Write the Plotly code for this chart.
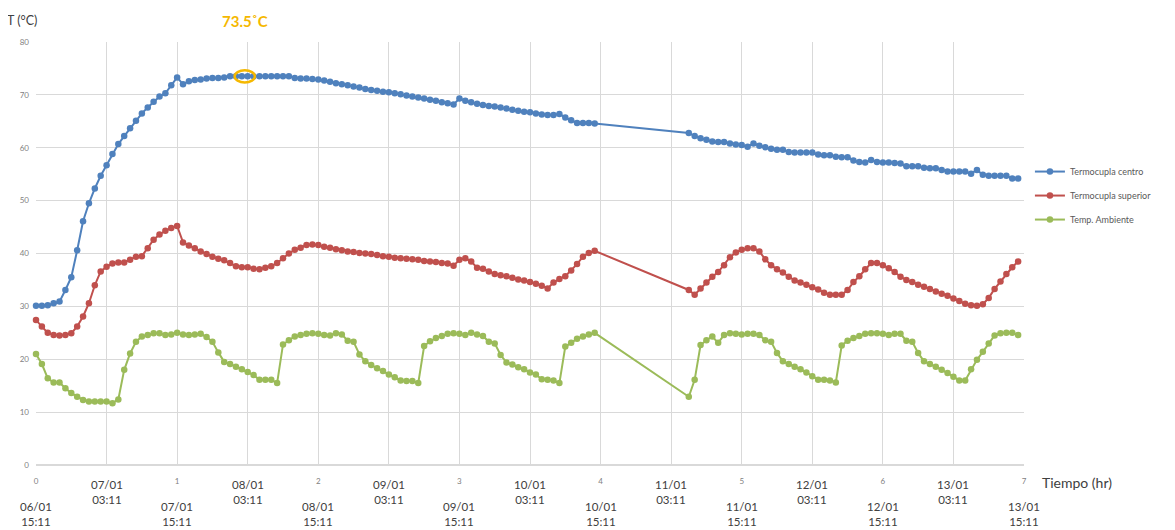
import plotly.graph_objects as go

# ---------------- data (hourly readings, x axis in days) ----------------
hours = list(range(0, 96)) + list(range(111, 168))

centro = [30.1,30.1,30.2,30.6,30.9,33.1,35.5,40.6,46.1,49.5,
          52.3,54.7,56.7,58.8,60.7,62.2,63.7,65.1,66.5,67.6,
          68.7,69.7,70.3,71.8,73.3,72.0,72.6,72.8,72.9,73.1,
          73.2,73.2,73.3,73.5,73.5,73.5,73.5,73.5,73.5,73.5,
          73.5,73.5,73.5,73.5,73.2,73.1,73.1,73.0,72.9,72.7,
          72.5,72.2,72.0,71.8,71.6,71.4,71.1,70.9,70.8,70.6,
          70.5,70.3,70.1,69.9,69.7,69.5,69.3,69.1,68.9,68.6,
          68.4,68.2,69.3,68.9,68.6,68.3,68.1,67.9,67.8,67.6,
          67.4,67.2,67.0,66.8,66.7,66.5,66.3,66.2,66.2,66.4,
          65.7,65.2,64.7,64.7,64.7,64.6,
          62.8,62.2,61.8,61.5,61.2,61.1,61.1,60.8,60.6,60.5,
          60.2,60.8,60.4,60.1,59.8,59.6,59.6,59.2,59.1,59.1,
          59.1,59.1,58.7,58.6,58.6,58.3,58.2,58.2,57.6,57.3,
          57.2,57.7,57.3,57.2,57.2,57.1,57.0,56.5,56.5,56.5,
          56.2,56.1,56.1,55.8,55.5,55.5,55.5,55.5,55.1,55.8,
          54.9,54.7,54.7,54.7,54.7,54.2,54.2]

superior = [27.4,26.2,25.0,24.6,24.5,24.6,24.9,26.2,28.1,30.6,
            34.0,36.6,37.5,38.1,38.3,38.3,38.8,39.4,39.5,41.0,
            42.6,43.6,44.3,44.8,45.2,42.1,41.5,41.0,40.4,39.9,
            39.4,39.0,38.7,38.2,37.6,37.4,37.4,37.1,37.0,37.3,
            37.6,38.2,39.1,40.0,40.7,41.1,41.6,41.7,41.6,41.3,
            41.1,40.8,40.6,40.4,40.3,40.1,40.0,39.9,39.7,39.5,
            39.4,39.2,39.1,39.0,38.9,38.8,38.6,38.5,38.4,38.2,
            38.1,37.7,38.8,39.1,38.5,37.3,37.1,36.6,36.1,35.9,
            35.7,35.4,35.1,34.9,34.6,34.3,33.9,33.4,34.5,35.2,
            35.7,36.8,38.0,39.4,40.1,40.5,
            33.1,32.2,33.4,34.5,35.6,36.5,37.8,39.3,40.2,40.7,
            41.0,41.0,40.4,38.9,37.8,37.0,36.4,35.6,34.9,34.5,
            34.1,33.6,33.2,32.6,32.2,32.2,32.2,33.1,34.6,35.7,
            37.0,38.2,38.2,37.8,37.2,36.5,35.6,35.0,34.6,34.1,
            33.7,33.3,32.8,32.4,32.0,31.5,31.0,30.5,30.2,30.1,
            30.4,31.6,33.3,34.7,36.1,37.4,38.5]

ambiente = [21.0,19.1,16.4,15.6,15.6,14.5,13.6,12.9,12.3,12.0,
            12.0,12.0,12.0,11.7,12.4,18.0,21.1,23.3,24.3,24.6,
            24.9,24.9,24.6,24.7,25.0,24.7,24.6,24.7,24.8,24.2,
            23.3,21.3,19.5,19.1,18.6,18.1,17.6,17.0,16.1,16.1,
            16.1,15.5,22.8,23.6,24.3,24.6,24.8,24.9,24.8,24.6,
            24.5,24.9,24.7,23.5,23.3,20.9,19.6,18.9,18.3,17.8,
            17.1,16.6,16.0,15.9,15.9,15.5,22.5,23.4,24.0,24.4,
            24.8,24.9,24.8,24.6,25.0,24.7,24.4,23.3,23.0,20.8,
            19.4,19.0,18.5,18.1,17.5,17.1,16.2,16.1,16.0,15.5,
            22.4,23.1,23.9,24.3,24.7,25.0,
            12.9,16.1,22.7,23.6,24.3,23.1,24.6,24.9,24.8,24.7,
            24.8,24.8,24.6,23.6,23.3,21.2,19.6,19.1,18.6,18.1,
            17.5,16.8,16.1,16.1,16.0,15.6,22.6,23.5,24.0,24.4,
            24.8,24.9,24.9,24.8,24.6,24.8,24.8,23.5,23.3,21.2,
            19.6,19.1,18.6,18.0,17.4,16.7,16.0,16.0,18.1,19.9,
            21.4,23.0,24.5,24.9,25.0,25.0,24.6]

series_names = ["Termocupla centro", "Termocupla superior", "Temp. Ambiente"]
series_colors = ["#4F81BD", "#C0504D", "#9BBB59"]

day_ticks = [0, 1, 2, 3, 4, 5, 6, 7]
date_int = ["06/01<br>15:11", "07/01<br>15:11", "08/01<br>15:11", "09/01<br>15:11",
            "10/01<br>15:11", "11/01<br>15:11", "12/01<br>15:11", "13/01<br>15:11"]
half_ticks = [0.5, 1.5, 2.5, 3.5, 4.5, 5.5, 6.5]
date_half = ["07/01<br>03:11", "08/01<br>03:11", "09/01<br>03:11", "10/01<br>03:11",
             "11/01<br>03:11", "12/01<br>03:11", "13/01<br>03:11"]

max_label = "73.5˚C"
max_hour = 35.5
max_value = 73.5

# ---------------- figure ----------------
x_days = [h / 24 for h in hours]
fig = go.Figure()
for i, (name, ys, col) in enumerate(zip(series_names, [centro, superior, ambiente], series_colors)):
    fig.add_trace(go.Scatter(
        x=x_days, y=ys, name=name, mode="lines+markers",
        line=dict(color=col, width=2),
        marker=dict(color=col, size=6.5, symbol="circle"),
        cliponaxis=False, legendgroup=f"g{i}",
    ))

tickvals = sorted(day_ticks + half_ticks)
ticktext = [str(int(v)) if v in day_ticks else "" for v in tickvals]

fig.update_xaxes(
    range=[0, 7], tickvals=tickvals, ticktext=ticktext,
    showgrid=True, gridcolor="#D9D9D9", gridwidth=1,
    zeroline=False, showline=False, ticks="",
    tickfont=dict(family="Lato", size=8, color="#7F7F7F"),
    ticklabelstandoff=10,
)
fig.update_yaxes(
    range=[0, 80], dtick=10, showgrid=True, gridcolor="#D9D9D9", gridwidth=1,
    zeroline=True, zerolinecolor="#D9D9D9", showline=False, ticks="",
    tickfont=dict(family="Lato", size=8, color="#7F7F7F"),
    ticklabelstandoff=6,
)

annotations = []
for v, t in zip(day_ticks, date_int):
    annotations.append(dict(x=v, xref="x", y=-0.115, yref="paper", text=t, showarrow=False,
                            xanchor="center", yanchor="middle",
                            font=dict(family="Lato", size=11.5, color="#404040")))
for v, t in zip(half_ticks, date_half):
    annotations.append(dict(x=v, xref="x", y=-0.063, yref="paper", text=t, showarrow=False,
                            xanchor="center", yanchor="middle",
                            font=dict(family="Lato", size=11.5, color="#404040")))
annotations.append(dict(x=1.016, xref="paper", y=-0.042, yref="paper", text="Tiempo (hr)",
                        showarrow=False, xanchor="left", yanchor="middle",
                        font=dict(family="Lato", size=14, color="#404040")))
annotations.append(dict(x=-0.031, xref="paper", y=1.052, yref="paper", text="T (°C)",
                        showarrow=False, xanchor="left", yanchor="middle",
                        font=dict(family="Lato", size=12.5, color="#404040")))
annotations.append(dict(x=max_hour / 24, xref="x", y=1.05, yref="paper", text=f"<b>{max_label}</b>",
                        showarrow=False, xanchor="center", yanchor="middle",
                        font=dict(family="Lato", size=15, color="#F5B800")))

fig.update_layout(
    width=1167, height=522,
    margin=dict(l=24, r=151, t=34, b=65),
    paper_bgcolor="white", plot_bgcolor="white",
    showlegend=True,
    legend=dict(x=1.006, y=0.728, xanchor="left", yanchor="top",
                font=dict(family="Lato", size=9, color="#595959"),
                tracegroupgap=5, itemwidth=30, bgcolor="rgba(0,0,0,0)"),
    annotations=annotations,
    shapes=[dict(type="circle", xref="x", yref="y",
                 x0=max_hour / 24 - 0.072, x1=max_hour / 24 + 0.072,
                 y0=max_value - 1.15, y1=max_value + 1.15,
                 line=dict(color="#F5B800", width=2.5))],
)

fig.write_html("out.html")
